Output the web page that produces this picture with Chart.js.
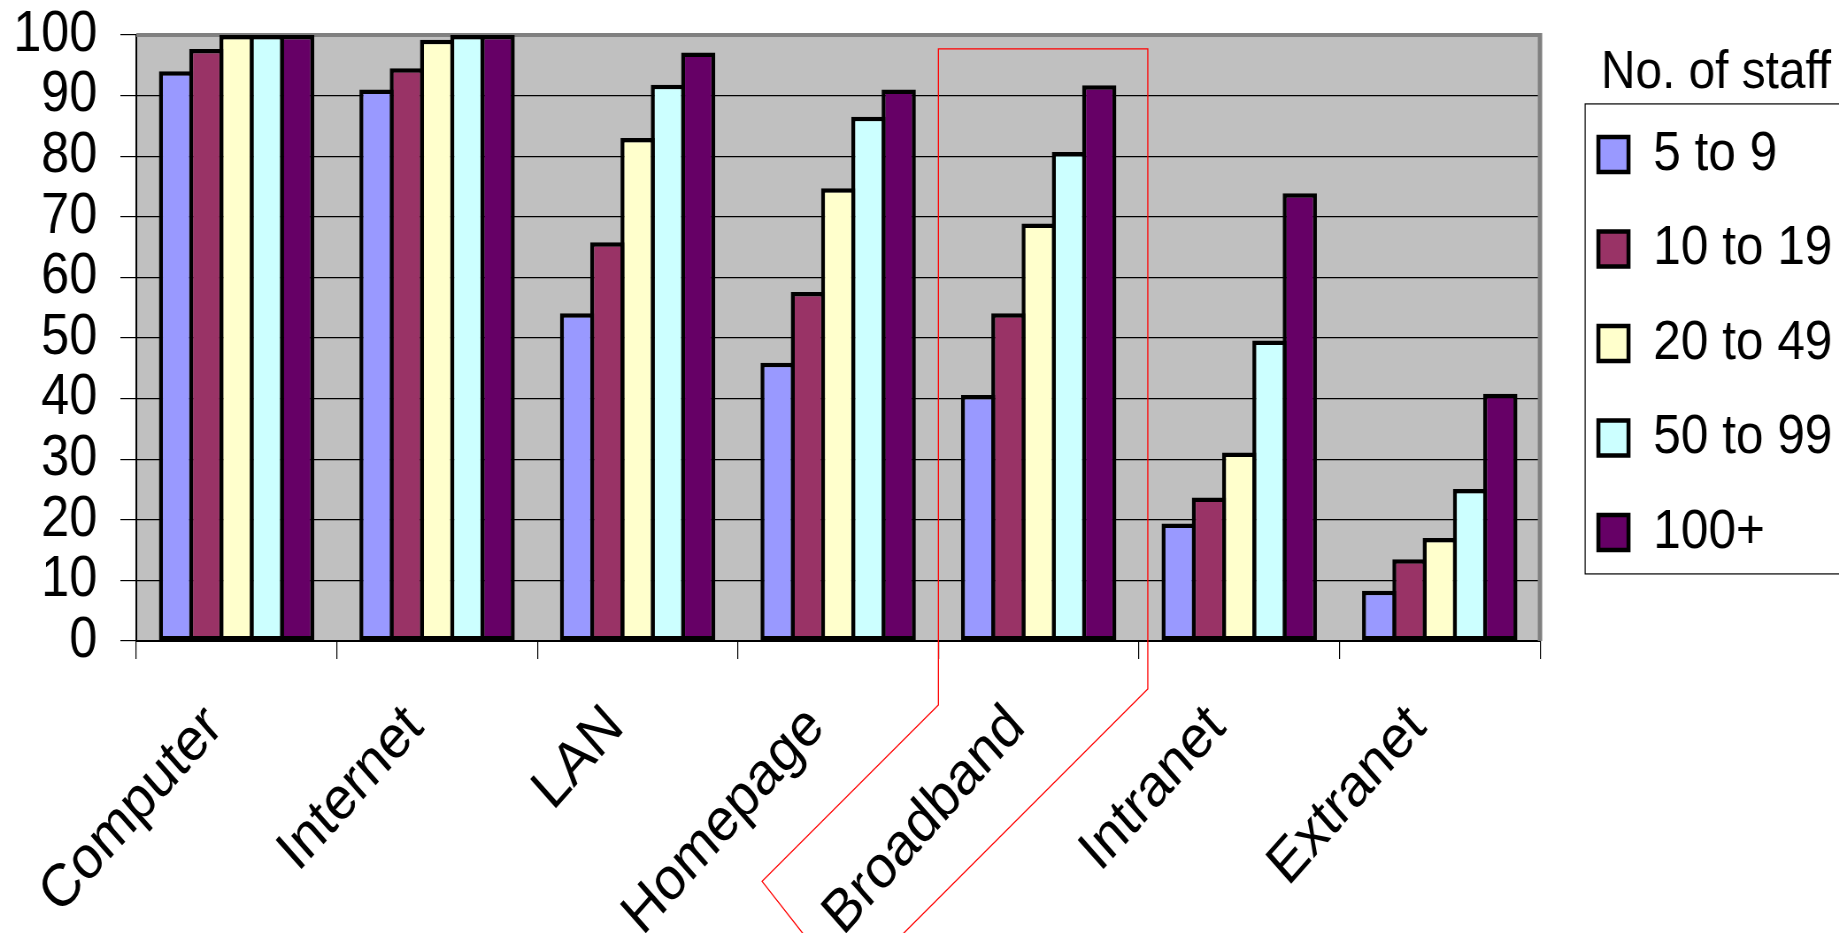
<!DOCTYPE html>
<html>
<head>
<meta charset="utf-8">
<title>No. of staff</title>
<script src="https://cdn.jsdelivr.net/npm/chart.js@4.4.1/dist/chart.umd.min.js"></script>
<style>
  html, body { margin:0; padding:0; overflow:hidden; background:#fff; }
  /* the original picture is squeezed sideways, so the chart is drawn wider and scaled down */
  #wrap { width:2120px; height:933px; transform:scaleX(0.885); transform-origin:0 0; }
</style>
</head>
<body>
<div id="wrap"><canvas id="chart"></canvas></div>
<script>
const categories = ['Computer', 'Internet', 'LAN', 'Homepage', 'Broadband', 'Intranet', 'Extranet'];
const staffGroups = ['5 to 9', '10 to 19', '20 to 49', '50 to 99', '100+'];
const staff5to9    = [94, 91, 54.1, 45.9, 40.6, 19.4, 8.3];
const staff10to19  = [97.7, 94.5, 65.8, 57.6, 54.1, 23.7, 13.5];
const staff20to49  = [100, 99.2, 83, 74.7, 68.9, 31.1, 17];
const staff50to99  = [100, 100, 91.8, 86.5, 80.7, 49.6, 25.1];
const staff100plus = [100, 100, 97.1, 91, 91.7, 73.9, 40.8];
const groupColors  = ['#9999ff', '#993366', '#ffffcc', '#ccffff', '#660066'];
const yMin = 0, yMax = 100, yStep = 10;
const legendTitle = 'No. of staff';
const highlighted = 'Broadband';

const FONT = "'Liberation Sans', Arial, sans-serif";

// grey plot area with the darker frame on top and right
const plotFrame = {
  id: 'plotFrame',
  beforeDraw(chart){
    const {ctx, chartArea:a} = chart;
    ctx.save();
    ctx.fillStyle = '#c0c0c0';
    ctx.fillRect(a.left, a.top, a.right - a.left, a.bottom - a.top);
    ctx.restore();
  },
  beforeDatasetsDraw(chart){
    const {ctx, chartArea:a} = chart;
    ctx.save();
    ctx.strokeStyle = '#808080';
    ctx.lineWidth = 4;
    ctx.beginPath();
    ctx.moveTo(a.left, a.top);
    ctx.lineTo(a.right, a.top);
    ctx.stroke();
    ctx.lineWidth = 5;
    ctx.beginPath();
    ctx.moveTo(a.right, a.top - 2);
    ctx.lineTo(a.right, a.bottom);
    ctx.stroke();
    ctx.restore();
  }
};

// leave a gap between the plot and the legend, and centre the title a bit further right
const legendShift = {
  id: 'legendShift',
  afterLayout(chart){
    const l = chart.legend;
    l.left += 27.5;
    l.width += 30;
    l.right = l.left + l.width;
  }
};

// box round the legend items (its right side runs off the picture)
const legendFrame = {
  id: 'legendFrame',
  afterDraw(chart){
    const l = chart.legend, hb = l.legendHitBoxes;
    if(!hb || !hb.length) return;
    const last = hb[hb.length - 1];
    const top = hb[0].top - 22.5;
    const bottom = last.top + last.height + 13.5;
    const left = l.left + 23.5;
    const ctx = chart.ctx;
    ctx.save();
    ctx.strokeStyle = '#000';
    ctx.lineWidth = 1.2;
    ctx.strokeRect(left, top, chart.width + 20 - left, bottom - top);
    ctx.restore();
  }
};

// red outline drawn round the Broadband column and its label
const highlight = {
  id: 'highlight',
  afterDraw(chart){
    const x = chart.scales.x, y = chart.scales.y, a = chart.chartArea, ctx = chart.ctx;
    const i = categories.indexOf(highlighted);
    const half = (x.getPixelForValue(1) - x.getPixelForValue(0)) / 2;
    const xl = x.getPixelForValue(i) - half;
    const xr = x.getPixelForValue(i) + half + 10;
    const top = y.getPixelForValue(97.7);
    const dx = -0.749, dy = 0.663;
    const l1 = [xl, a.bottom + 64];
    const l2 = [l1[0] + dx * 266, l1[1] + dy * 266];
    const l3 = [l2[0] + dy * 80, l2[1] - dx * 80];
    const r1 = [xr, a.bottom + 48];
    const r2 = [r1[0] + dx * 400, r1[1] + dy * 400];
    ctx.save();
    ctx.strokeStyle = '#ff0000';
    ctx.lineWidth = 1.3;
    ctx.beginPath();
    ctx.moveTo(l3[0], l3[1]);
    ctx.lineTo(l2[0], l2[1]);
    ctx.lineTo(l1[0], l1[1]);
    ctx.lineTo(xl, top);
    ctx.lineTo(xr, top);
    ctx.lineTo(r1[0], r1[1]);
    ctx.lineTo(r2[0], r2[1]);
    ctx.stroke();
    ctx.restore();
  }
};

const series = [staff5to9, staff10to19, staff20to49, staff50to99, staff100plus];

const data = {
  labels: categories,
  datasets: series.map((values, k) => ({
    label: staffGroups[k],
    data: values,
    backgroundColor: groupColors[k],
    borderColor: '#000',
    borderWidth: 4.5,
    borderSkipped: false,
    barPercentage: 1.13,
    categoryPercentage: 0.755
  }))
};

new Chart(document.getElementById('chart'), {
  type: 'bar',
  data,
  plugins: [plotFrame, legendShift, legendFrame, highlight],
  options: {
    responsive: true,
    maintainAspectRatio: false,
    animation: false,
    events: [],
    color: '#000',
    layout: { padding: { top: 35, left: 0, right: 67, bottom: 0 } },
    plugins: {
      tooltip: { enabled: false },
      legend: {
        position: 'right',
        align: 'start',
        title: {
          display: true,
          text: legendTitle,
          color: '#000',
          font: { family: FONT, size: 54, lineHeight: 0.78 },
          padding: { top: 10.8, bottom: 0 }
        },
        labels: {
          color: '#000',
          font: { family: FONT, size: 56 },
          boxWidth: 34,
          boxHeight: 35,
          padding: 38.5
        }
      }
    },
    scales: {
      x: {
        grid: { display: true, drawOnChartArea: false, drawTicks: true, tickLength: 18, color: '#000', lineWidth: 1.2, offset: true },
        border: { display: true, color: '#000', width: 2 },
        ticks: {
          color: '#000',
          font: { family: FONT, size: 60 },
          minRotation: 45,
          maxRotation: 45,
          autoSkip: false,
          padding: 33,
          labelOffset: -25
        },
        afterFit(scale){ scale.height = 292; }
      },
      y: {
        min: yMin,
        max: yMax,
        grid: { color: '#000', lineWidth: 1.2, tickLength: 18 },
        border: { display: true, color: '#000', width: 2 },
        ticks: {
          stepSize: yStep,
          autoSkip: false,
          color: '#000',
          font: { family: FONT, size: 57 },
          padding: 26
        },
        afterFit(scale){
          scale.width = 154;
          scale.paddingTop = 0;
          scale.paddingBottom = 0;
        }
      }
    }
  }
});
</script>
</body>
</html>
